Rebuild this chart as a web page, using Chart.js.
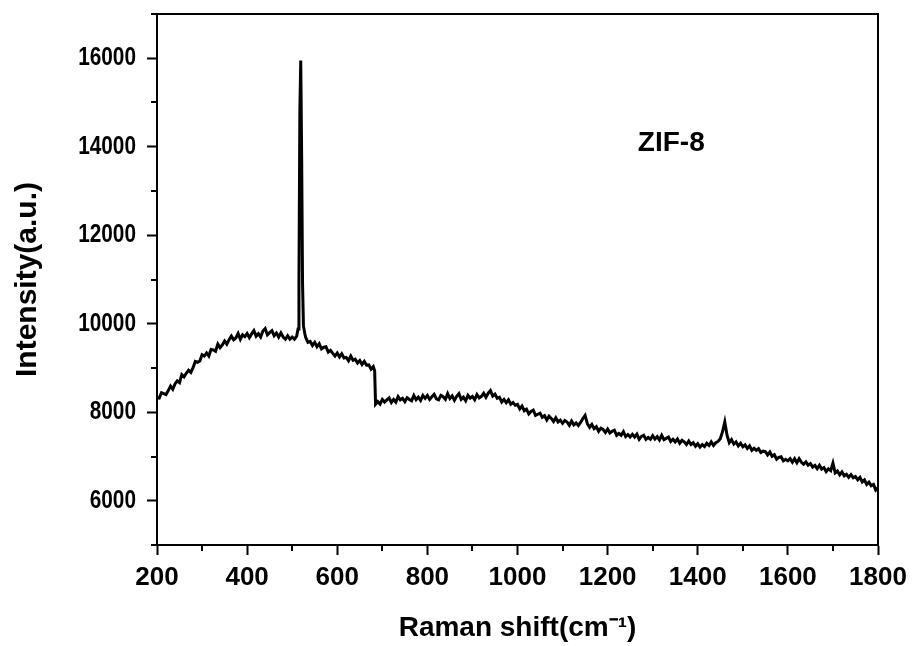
<!DOCTYPE html>
<html lang="en">
<head>
<meta charset="UTF-8">
<title>Raman - ZIF-8</title>
<script src="https://cdn.jsdelivr.net/npm/chart.js"></script>
<style>
  html, body { margin: 0; padding: 0; background: #fff; }
  #wrap { width: 915px; height: 646px; }
</style>
</head>
<body>
<div id="wrap"><canvas id="raman" width="915" height="646"></canvas></div>
<script>
// Raman shift (cm-1)
const shift = [
  200, 205, 210, 215, 220, 225, 230, 235, 240, 245,
  250, 255, 260, 265, 270, 275, 280, 285, 290, 295,
  300, 305, 310, 315, 320, 325, 330, 335, 340, 345,
  350, 355, 360, 365, 370, 375, 380, 385, 390, 395,
  400, 405, 410, 415, 420, 425, 430, 435, 440, 445,
  450, 455, 460, 465, 470, 475, 480, 485, 490, 495,
  500, 505, 510, 513, 515, 517, 519, 521, 523, 525, 528,
  530, 535, 540, 545,
  550, 555, 560, 565, 570, 575, 580, 585, 590, 595,
  600, 605, 610, 615, 620, 625, 630, 635, 640, 645,
  650, 655, 660, 665, 670, 675, 680, 683, 685, 690, 695,
  700, 705, 710, 715, 720, 725, 730, 735, 740, 745,
  750, 755, 760, 765, 770, 775, 780, 785, 790, 795,
  800, 805, 810, 815, 820, 825, 830, 835, 840, 845,
  850, 855, 860, 865, 870, 875, 880, 885, 890, 895,
  900, 905, 910, 915, 920, 925, 930, 935, 940, 945,
  950, 955, 960, 965, 970, 975, 980, 985, 990, 995,
  1000, 1005, 1010, 1015, 1020, 1025, 1030, 1035, 1040, 1045,
  1050, 1055, 1060, 1065, 1070, 1075, 1080, 1085, 1090, 1095,
  1100, 1105, 1110, 1115, 1120, 1125, 1130, 1135, 1140, 1145,
  1150, 1155, 1160, 1165, 1170, 1175, 1180, 1185, 1190, 1195,
  1200, 1205, 1210, 1215, 1220, 1225, 1230, 1235, 1240, 1245,
  1250, 1255, 1260, 1265, 1270, 1275, 1280, 1285, 1290, 1295,
  1300, 1305, 1310, 1315, 1320, 1325, 1330, 1335, 1340, 1345,
  1350, 1355, 1360, 1365, 1370, 1375, 1380, 1385, 1390, 1395,
  1400, 1405, 1410, 1415, 1420, 1425, 1430, 1435, 1440, 1445,
  1450, 1455, 1460, 1465, 1470, 1475, 1480, 1485, 1490, 1495,
  1500, 1505, 1510, 1515, 1520, 1525, 1530, 1535, 1540, 1545,
  1550, 1555, 1560, 1565, 1570, 1575, 1580, 1585, 1590, 1595,
  1600, 1605, 1610, 1615, 1620, 1625, 1630, 1635, 1640, 1645,
  1650, 1655, 1660, 1665, 1670, 1675, 1680, 1685, 1690, 1695,
  1700, 1705, 1710, 1715, 1720, 1725, 1730, 1735, 1740, 1745,
  1750, 1755, 1760, 1765, 1770, 1775, 1780, 1785, 1790, 1795,
  1800
];

// Intensity (a.u.), same order as shift
const intensity = [
  8330, 8320, 8440, 8420, 8400, 8490, 8590, 8520, 8640, 8710,
  8670, 8850, 8800, 8880, 8950, 8900, 9010, 9150, 9130, 9160,
  9300, 9270, 9340, 9270, 9420, 9410, 9380, 9540, 9460, 9520,
  9610, 9540, 9640, 9720, 9640, 9680, 9780, 9650, 9750, 9710,
  9780, 9685, 9770, 9845, 9720, 9775, 9700, 9835, 9890, 9750,
  9800, 9845, 9730, 9790, 9700, 9795, 9700, 9650, 9730, 9650,
  9700, 9650, 9720, 9880, 10900, 14800, 15950, 13800, 10900, 9950, 9780,
  9690, 9580, 9600, 9510,
  9580, 9480, 9550, 9430, 9470, 9480, 9360, 9400, 9330, 9270,
  9340, 9250, 9320, 9225, 9240, 9165, 9270, 9175, 9200, 9115,
  9170, 9080, 9150, 9065, 9070, 8975, 9030, 8940, 8180, 8240, 8185,
  8290, 8230, 8280, 8325, 8220, 8290, 8230, 8355, 8280, 8315,
  8240, 8330, 8290, 8260, 8380, 8285, 8340, 8265, 8380, 8315,
  8380, 8290, 8350, 8405, 8305, 8280, 8380, 8350, 8290, 8420,
  8310, 8370, 8270, 8360, 8420, 8290, 8340, 8260, 8380, 8320,
  8360, 8285, 8400, 8325, 8360, 8430, 8340, 8430, 8490, 8365,
  8410, 8315, 8340, 8230, 8290, 8215, 8280, 8180, 8220, 8160,
  8180, 8075, 8140, 8035, 8070, 7965, 8020, 8050, 7930, 7955,
  7980, 7885, 7920, 7825, 7910, 7860, 7790, 7875, 7780, 7820,
  7750, 7815, 7780, 7705, 7800, 7715, 7760, 7700, 7770, 7860,
  7930, 7740, 7660, 7725, 7630, 7675, 7570, 7640, 7610, 7545,
  7620, 7530, 7570, 7595, 7480, 7520, 7480, 7560, 7450, 7495,
  7440, 7500, 7440, 7505, 7390, 7455, 7480, 7385, 7430, 7390,
  7470, 7395, 7450, 7375, 7480, 7380, 7410, 7440, 7340, 7390,
  7330, 7395, 7300, 7365, 7330, 7270, 7350, 7270, 7310, 7230,
  7290, 7215, 7270, 7225, 7300, 7250, 7330, 7250, 7310, 7340,
  7400, 7560, 7780, 7480, 7310, 7380, 7280, 7330, 7240, 7300,
  7220, 7265, 7180, 7240, 7140, 7185, 7140, 7175, 7090, 7120,
  7110, 7035, 7100, 7005, 7040, 6940, 6980, 6995, 6900, 6935,
  6900, 6950, 6870, 6950, 6860, 6950, 6870, 6825, 6880, 6805,
  6840, 6760, 6800, 6725, 6800, 6715, 6750, 6660, 6720, 6680,
  6850, 6630, 6670, 6585, 6650, 6565, 6600, 6530, 6590, 6520,
  6550, 6475, 6530, 6425, 6470, 6370, 6420, 6340, 6370, 6240,
  6290
];

const xLabelStep = 200;   // labelled ticks on x
const yLabelStep = 2000;  // labelled ticks on y
const sampleName = 'ZIF-8';

const FONT = '"Liberation Sans", Arial, Helvetica, sans-serif';

// box round the plot, short minor ticks, narrow y labels and the sample label
const frame = {
  id: 'frame',
  afterDraw(chart) {
    const {ctx, chartArea: a, scales: {x, y}} = chart;
    ctx.save();
    ctx.strokeStyle = '#000';
    ctx.lineWidth = 2;
    ctx.strokeRect(a.left, a.top, a.right - a.left, a.bottom - a.top);

    ctx.beginPath();
    x.ticks.forEach(t => {
      if (t.value % xLabelStep !== 0) {
        const px = Math.round(x.getPixelForValue(t.value));
        ctx.moveTo(px, a.bottom);
        ctx.lineTo(px, a.bottom + 6);
      }
    });
    y.ticks.forEach(t => {
      if (t.value % yLabelStep !== 0) {
        const py = Math.round(y.getPixelForValue(t.value));
        ctx.moveTo(a.left, py);
        ctx.lineTo(a.left - 6, py);
      }
    });
    ctx.stroke();

    ctx.fillStyle = '#000';

    // y tick labels: the original uses a condensed face
    ctx.font = 'bold 26px ' + FONT;
    ctx.textAlign = 'right';
    ctx.textBaseline = 'middle';
    const squeeze = 0.8;
    y.ticks.forEach(t => {
      if (t.value % yLabelStep === 0) {
        const py = y.getPixelForValue(t.value);
        ctx.save();
        ctx.translate(a.left - 21, py);
        ctx.scale(squeeze, 1);
        ctx.fillText(String(t.value), 0, 0);
        ctx.restore();
      }
    });

    ctx.textAlign = 'left';
    ctx.font = 'bold 28px ' + FONT;
    ctx.fillText(sampleName, x.getPixelForValue(1267), y.getPixelForValue(14075));
    ctx.restore();
  }
};

const points = shift.map((s, i) => ({x: s, y: intensity[i]}));

new Chart(document.getElementById('raman'), {
  type: 'line',
  data: {
    datasets: [{
      label: sampleName,
      data: points,
      borderColor: '#000',
      borderWidth: 3,
      pointRadius: 0,
      tension: 0,
      fill: false
    }]
  },
  options: {
    responsive: false,
    animation: false,
    layout: { padding: { top: 14, right: 37, left: 0, bottom: 0 } },
    plugins: { legend: { display: false }, tooltip: { enabled: false } },
    scales: {
      x: {
        type: 'linear',
        min: 200,
        max: 1800,
        afterFit(scale) { scale.height = 101; scale.paddingLeft = 0; scale.paddingRight = 0; },
        border: { display: true, color: '#000', width: 2 },
        grid: {
          drawOnChartArea: false,
          tickLength: 10,
          tickWidth: 2,
          tickColor: c => (c.tick && c.tick.value % xLabelStep === 0) ? '#000' : 'rgba(0,0,0,0)'
        },
        ticks: {
          stepSize: 100,
          autoSkip: false,
          maxRotation: 0,
          padding: 7,
          color: '#000',
          font: { family: FONT, size: 26, weight: 'bold' },
          callback: v => v % xLabelStep === 0 ? String(v) : ''
        },
        title: {
          display: true,
          text: 'Raman shift(cm⁻¹)',
          color: '#000',
          font: { family: FONT, size: 28, weight: 'bold' },
          padding: { top: 0, bottom: 1 }
        }
      },
      y: {
        min: 5000,
        max: 17000,
        afterFit(scale) { scale.width = 157; scale.paddingTop = 0; scale.paddingBottom = 0; },
        border: { display: true, color: '#000', width: 2 },
        grid: {
          drawOnChartArea: false,
          tickLength: 10,
          tickWidth: 2,
          tickColor: c => (c.tick && c.tick.value % yLabelStep === 0) ? '#000' : 'rgba(0,0,0,0)'
        },
        ticks: {
          stepSize: 1000,
          autoSkip: false,
          padding: 8,
          color: '#000',
          font: { family: FONT, size: 26, weight: 'bold' },
          // labels are drawn narrower by the frame plugin
          callback: () => ''
        },
        title: {
          display: true,
          text: 'Intensity(a.u.)',
          color: '#000',
          font: { family: FONT, size: 30, weight: 'bold' },
          padding: { top: 10, bottom: 0 }
        }
      }
    }
  },
  plugins: [frame]
});
</script>
</body>
</html>
